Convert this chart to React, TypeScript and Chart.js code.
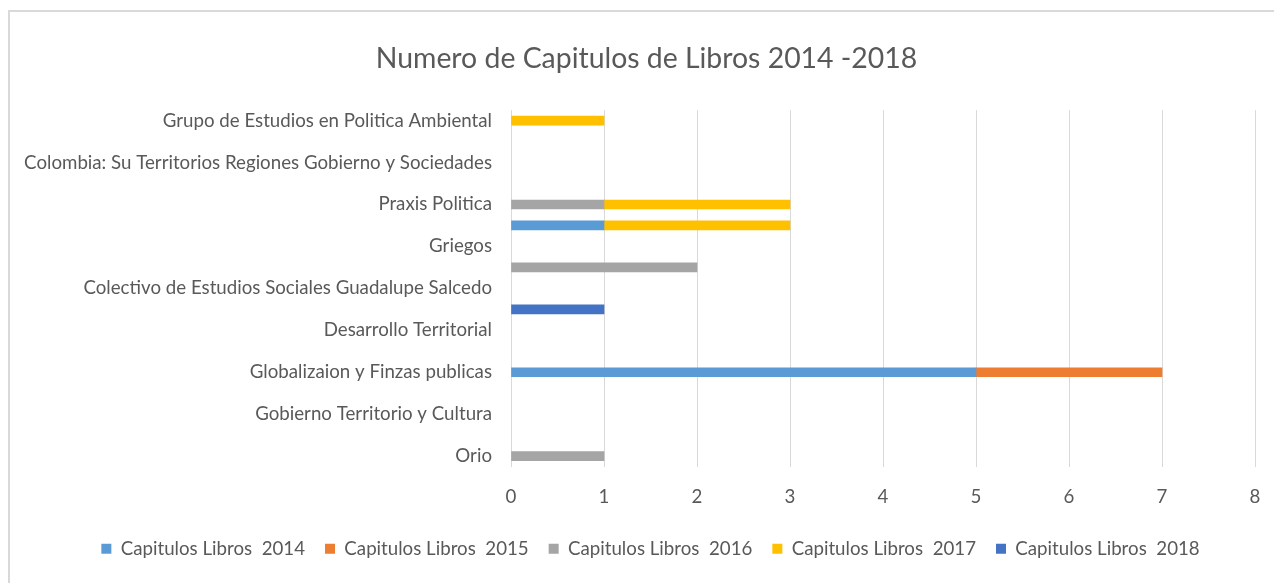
import React, { useEffect, useRef } from "react";
import { Chart, registerables } from "chart.js";

Chart.register(...registerables);

const categories: string[] = [
  "Grupo de Estudios en Politica Ambiental",
  "",
  "Colombia: Su Territorios Regiones Gobierno y Sociedades",
  "",
  "Praxis Politica",
  "",
  "Griegos",
  "",
  "Colectivo de Estudios Sociales Guadalupe Salcedo",
  "",
  "Desarrollo Territorial",
  "",
  "Globalizaion y Finzas publicas",
  "",
  "Gobierno Territorio y Cultura",
  "",
  "Orio",
];

const seriesNames: string[] = [
  "Capitulos Libros  2014",
  "Capitulos Libros  2015",
  "Capitulos Libros  2016",
  "Capitulos Libros  2017",
  "Capitulos Libros  2018",
];

const values2014 = [null, null, null, null, null, 1, null, null, null, null, null, null, 5, null, null, null, null];
const values2015 = [null, null, null, null, null, null, null, null, null, null, null, null, 2, null, null, null, null];
const values2016 = [null, null, null, null, 1, null, null, 2, null, null, null, null, null, null, null, null, 1];
const values2017 = [1, null, null, null, 2, 2, null, null, null, null, null, null, null, null, null, null, null];
const values2018 = [null, null, null, null, null, null, null, null, null, 1, null, null, null, null, null, null, null];

const xTicks = [0, 1, 2, 3, 4, 5, 6, 7, 8];

const colors = ["#5B9BD5", "#ED7D31", "#A5A5A5", "#FFC000", "#4472C4"];

const FONT = "Lato";
const TEXT = "#595959";
const FS = 18.7;
const X_TICK_PAD = 19;
const LEGEND_PAD = 20;

// small horizontal offsets so the title and legend sit where the reference has them
const shiftPlugin = {
  id: "shiftBoxes",
  afterLayout(chart: any) {
    const t = chart.titleBlock;
    if (t) {
      t.left += 8;
      t.right += 8;
    }
    const l = chart.legend;
    if (l) {
      l.left += 12;
      l.right += 12;
    }
  },
};

export default function App() {
  const ref = useRef<HTMLCanvasElement | null>(null);

  useEffect(() => {
    if (!ref.current) return;
    const all = [values2014, values2015, values2016, values2017, values2018];
    const chart = new Chart(ref.current, {
      type: "bar",
      data: {
        labels: categories,
        datasets: all.map((v, i) => ({
          label: seriesNames[i],
          data: v as any,
          backgroundColor: colors[i],
          borderWidth: 0,
          barThickness: 9,
        })),
      },
      plugins: [shiftPlugin],
      options: {
        indexAxis: "y",
        responsive: false,
        animation: false,
        layout: { padding: { left: 12, right: 32, top: 0, bottom: 24 } },
        plugins: {
          title: {
            display: true,
            text: "Numero de Capitulos de Libros 2014 -2018",
            color: TEXT,
            font: { family: FONT, size: 28.4, weight: "normal" },
            padding: { top: 30, bottom: 34 },
          },
          legend: {
            position: "bottom",
            labels: {
              color: TEXT,
              font: { family: FONT, size: FS },
              boxWidth: 10,
              boxHeight: 10,
              padding: LEGEND_PAD,
            },
          },
          tooltip: { enabled: false },
        },
        scales: {
          x: {
            stacked: true,
            min: 0,
            max: 8,
            afterBuildTicks: (s: any) => {
              s.ticks = xTicks.map((v) => ({ value: v }));
            },
            afterFit: (s: any) => {
              s.height = X_TICK_PAD + FS * 1.2 + 11.25;
            },
            grid: { color: "#D9D9D9", drawTicks: false },
            border: { display: false },
            ticks: { color: TEXT, font: { family: FONT, size: FS }, padding: X_TICK_PAD },
          },
          y: {
            stacked: true,
            grid: { display: false, drawTicks: false },
            border: { display: false },
            afterFit: (s: any) => {
              s.width = 489;
            },
            ticks: {
              color: TEXT,
              font: { family: FONT, size: FS },
              autoSkip: false,
              padding: 19,
            },
          },
        },
      },
    });
    return () => chart.destroy();
  }, []);

  return (
    <div
      style={{
        position: "fixed",
        left: 8,
        top: 10,
        width: 1277,
        height: 600,
        border: "2px solid #D9D9D9",
        background: "#fff",
        overflow: "hidden",
      }}
    >
      <canvas ref={ref} width={1277} height={580} style={{ display: "block" }} />
    </div>
  );
}
